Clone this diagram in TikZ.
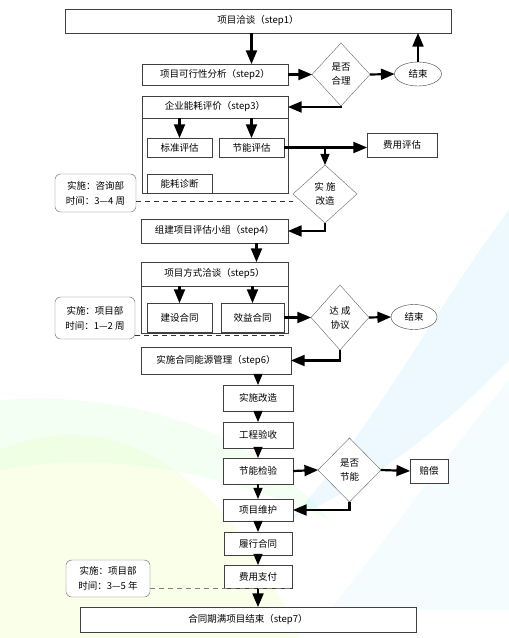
\documentclass[tikz,border=0pt]{standalone}
\usepackage{fontspec}
\setmainfont{Noto Sans CJK SC}
\usepackage{tikz}
\usetikzlibrary{arrows,shapes.geometric}
\tikzset{
    flowbox/.style = {
        align=center,
        rectangle,
        draw=black!75,
        fill=white,
        font=\fontsize{9.5}{11}\selectfont,
        inner sep=0pt,
        outer sep=0pt
    },
    framebox/.style = {
        rectangle,
        draw=black!75,
        inner sep=0pt,
        outer sep=0pt
    },
    checknode/.style = {
        flowbox,
        diamond,
        draw=black!60,
        font=\fontsize{9.5}{14}\selectfont
    },
    endnode/.style = {
        flowbox,
        ellipse
    },
    notenode/.style = {
        flowbox,
        draw=black!60,
        rounded corners=2mm,
        font=\fontsize{9.5}{15}\selectfont
    },
    flow/.style = {
        draw=black,
        line width=2.2pt,
        -triangle 45
    },
    smallflow/.style = {
        draw=black,
        line width=1.6pt,
        -triangle 45
    },
    timeline/.style = {
        draw=black!80,
        dashed,
        dash pattern=on 5pt off 4pt,
        line width=0.9pt
    },
    haze/.style = {
        opacity=0.35
    }
}

\begin{document}
\begin{tikzpicture}[x=1pt, y=-1pt]
    \useasboundingbox (0,0) rectangle (509,638);
    % soft background
    \fill[haze, green!20!yellow!25] (0,450) .. controls (120,400) and (230,480) .. (300,638) -- (0,638) -- cycle;
    \fill[haze, green!15] (0,400) .. controls (150,390) and (260,440) .. (330,520) .. controls (220,470) and (100,450) .. (0,470) -- cycle;
    \fill[haze, cyan!20] (509,210) .. controls (440,300) and (380,420) .. (290,520) .. controls (400,470) and (470,400) .. (509,360) -- cycle;
    \fill[haze, cyan!12] (509,380) .. controls (450,450) and (400,520) .. (330,610) -- (509,610) -- cycle;

    % step 1 and 2
    \node [flowbox, minimum width=386pt, minimum height=24pt] (step1) at (258,21) {项目洽谈（step1）};
    \node [flowbox, minimum width=146pt, minimum height=21pt] (step2) at (215,74.5) {项目可行性分析（step2）};
    \node [checknode, minimum width=58pt, minimum height=63pt] (chk1) at (341,74.5) {是否\\合理};
    \node [endnode, minimum width=47pt, minimum height=24pt] (end1) at (418,74) {结束};

    % step 3
    \node [framebox, minimum width=146pt, minimum height=97pt] (frame3) at (215,144.5) {};
    \node [flowbox, minimum width=146pt, minimum height=22pt] (title3) at (215,107) {企业能耗评价（step3）};
    \node [flowbox, minimum width=65pt, minimum height=19pt] (std) at (179.5,147.5) {标准评估};
    \node [flowbox, minimum width=65pt, minimum height=19pt] (save) at (251.5,147.5) {节能评估};
    \node [flowbox, minimum width=65pt, minimum height=19pt] (diag) at (179.5,183.5) {能耗诊断};
    \node [flowbox, minimum width=70pt, minimum height=24pt] (cost) at (402,145) {费用评估};
    \node [checknode, minimum width=64pt, minimum height=58pt] (chk2) at (325,194) {实 施\\改造};
    \node [notenode, minimum width=81pt, minimum height=38pt] (note1) at (95.5,193) {实施：咨询部\\时间：3—4 周};

    % step 4 and 5
    \node [flowbox, minimum width=147pt, minimum height=24pt] (step4) at (214.5,231) {组建项目评估小组（step4）};
    \node [framebox, minimum width=147pt, minimum height=71pt] (frame5) at (214.5,297.5) {};
    \node [flowbox, minimum width=147pt, minimum height=24pt] (title5) at (214.5,274) {项目方式洽谈（step5）};
    \node [flowbox, minimum width=65pt, minimum height=29pt] (build) at (179.5,317.5) {建设合同};
    \node [flowbox, minimum width=63pt, minimum height=29pt] (benefit) at (252.5,317.5) {效益合同};
    \node [checknode, minimum width=58pt, minimum height=65pt] (chk3) at (340,317.5) {达 成\\协议};
    \node [endnode, minimum width=46pt, minimum height=25pt] (end2) at (414,317) {结束};
    \node [notenode, minimum width=80pt, minimum height=42pt] (note2) at (95,318) {实施：项目部\\时间：1—2 周};

    % step 6
    \node [flowbox, minimum width=150pt, minimum height=27pt] (step6) at (216,360.5) {实施合同能源管理（step6）};
    \node [flowbox, minimum width=70pt, minimum height=26pt] (impl) at (258,398) {实施改造};
    \node [flowbox, minimum width=70pt, minimum height=26pt] (accept) at (258,435) {工程验收};
    \node [flowbox, minimum width=70pt, minimum height=26pt] (test) at (258,471) {节能检验};
    \node [checknode, minimum width=63pt, minimum height=64pt] (chk4) at (349.5,470) {是否\\节能};
    \node [flowbox, minimum width=38pt, minimum height=24pt] (comp) at (429,471) {赔偿};
    \node [flowbox, minimum width=70pt, minimum height=22pt] (maint) at (258,510) {项目维护};
    \node [flowbox, minimum width=68pt, minimum height=23pt] (perform) at (258,543.5) {履行合同};
    \node [flowbox, minimum width=68pt, minimum height=23pt] (pay) at (258,576.5) {费用支付};
    \node [notenode, minimum width=84pt, minimum height=37pt] (note3) at (108,578.5) {实施：项目部\\时间：3—5 年};

    % step 7
    \node [flowbox, minimum width=336pt, minimum height=25pt] (step7) at (248,619.5) {合同期满项目结束（step7）};

    % connectors
    \draw [flow] (save.north |- step1.south) -- (save.north |- step2.north);
    \draw [flow] (step2.east) -- (chk1.west);
    \draw [flow] (chk1.east) -- (end1.west);
    \draw [flow] (end1.north) -- (end1.north |- step1.south);
    \draw [flow] (chk1.south) |- (title3.east);
    \draw [flow] (std.north |- title3.south) -- (std.north);
    \draw [flow] (save.north |- title3.south) -- (save.north);
    \draw [flow] (save.east) -- (save.east -| cost.west);
    \draw [smallflow] (save.east -| chk2.north) -- (chk2.north);
    \draw [flow] (chk2.south) |- (step4.east);
    \draw [timeline] ([yshift=-8pt]note1.east) -- ([yshift=-8pt]note1.east -| chk2.west);
    \draw [flow] ([xshift=42pt]step4.south) -- ([xshift=42pt]step4.south |- title5.north);
    \draw [flow] (build.north |- title5.south) -- (build.north);
    \draw [flow] (benefit.north |- title5.south) -- (benefit.north);
    \draw [flow] (benefit.east) -- (chk3.west);
    \draw [flow] (chk3.east) -- (end2.west);
    \draw [flow] (chk3.south) |- (step6.east);
    \draw [timeline] ([yshift=-17pt]note2.east) -- ([yshift=-17pt]note2.east -| frame5.east);
    \draw [smallflow] (impl.north |- step6.south) -- (impl.north);
    \draw [smallflow] (impl.south) -- (accept.north);
    \draw [smallflow] (accept.south) -- (test.north);
    \draw [flow] (test.east) -- (chk4.west);
    \draw [flow] (chk4.east) -- (comp.west);
    \draw [flow] (chk4.south) |- (maint.east);
    \draw [smallflow] (test.south) -- (maint.north);
    \draw [smallflow] (maint.south) -- (perform.north);
    \draw [smallflow] (perform.south) -- (pay.north);
    \draw [flow] (pay.south) -- (pay.south |- step7.north);
    \draw [timeline, draw=black!50] ([yshift=-10pt]note3.east) -- ([yshift=-10pt]note3.east -| pay.east);
\end{tikzpicture}
\end{document}
